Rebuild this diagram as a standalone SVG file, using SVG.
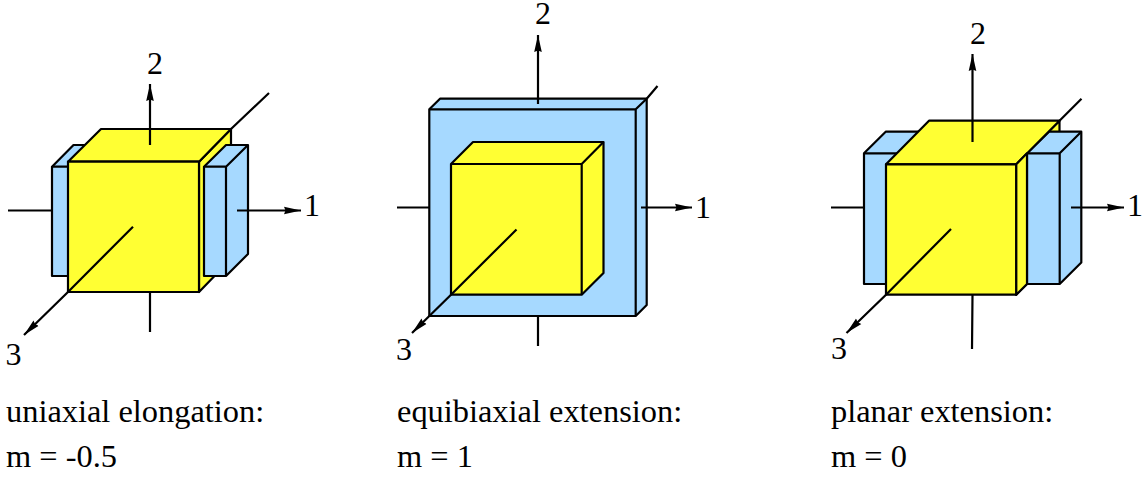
<svg xmlns="http://www.w3.org/2000/svg" width="1146" height="477" viewBox="0 0 1146 477">
<style>
.b{fill:#a6d9ff;stroke:#000;stroke-width:2.200;stroke-linejoin:round}
.y{fill:#ffff33;stroke:#000;stroke-width:2.200;stroke-linejoin:round}
.a{fill:none;stroke:#000;stroke-width:2.200}
text{font-family:"Liberation Serif","Times New Roman",serif;fill:#000}
.n{font-size:32px;text-anchor:middle}
.c{font-size:32.400px}
</style>
<defs>
<marker id="h" markerUnits="userSpaceOnUse" markerWidth="18" markerHeight="10" refX="17" refY="5" orient="auto"><path d="M0 1.200 L17 5 L0 8.800 L1.500 5Z" fill="#000"/></marker>
</defs>
<rect width="1146" height="477" fill="#fff"/>

<g id="connectors-back">
<path class="a" d="M8 210.500H52M231 129L269 93M150 292V332"/>
<path class="a" d="M397 207.500H429M646.700 98.700L657.500 86M538 316V346"/>
<path class="a" d="M831 207.500H864M1059.500 120.700L1081.500 98.700M972.500 295L972 349"/>
</g>

<g id="node-uniaxial">
<path class="b" d="M52 166.700L73.500 145H95V276H52Z"/>
<path class="a" d="M52 166.700H95"/>
<path class="y" d="M199 161.700L231 129V259L199 292Z"/>
<path class="y" d="M68 161.700L101 129H231L199 161.700Z"/>
<rect class="y" x="68" y="161.700" width="131" height="130.300"/>
<path class="b" d="M204 166.700L226 145H248V254L226 276H204Z"/>
<path class="a" d="M226 166.700L248 145M204 166.700H226V276"/>
</g>

<g id="node-equibiaxial">
<path class="b" d="M429.300 109.300L440 98.700H646.700V305L635.700 316H429.300Z"/>
<path class="a" d="M429.300 109.300H635.700V316M635.700 109.300L646.700 98.700"/>
<path class="y" d="M451 164L473 142H603.500V273L581.700 294.700H451Z"/>
<path class="a" d="M451 164H581.700V294.700M581.700 164L603.500 142"/>
</g>

<g id="node-planar">
<path class="b" d="M864 153.300L885.700 131.700H930V284H864Z"/>
<path class="a" d="M864 153.300H930"/>
<path class="y" d="M1016 164L1059.500 120.700V160H1027V284L1016 294.700Z"/>
<path class="b" d="M1027 153.300L1049 131.700H1081.300V262.500L1059.700 284H1027Z"/>
<path class="a" d="M1059.700 153.300L1081.300 131.700M1027 153.300H1059.700V284"/>
<path class="y" d="M886 164.300L929 120.700H1059.500L1016.300 164.300Z"/>
<rect class="y" x="886" y="164.300" width="130.300" height="130.400"/>
<path class="y" d="M1016.300 164.300L1027 153.300V284L1016.300 294.700Z"/>
</g>

<g id="connectors">
<path class="a" d="M133 226.700L68 292L24 335" marker-end="url(#h)"/>
<path class="a" d="M150 145V84" marker-end="url(#h)"/>
<path class="a" d="M237 210.500H301" marker-end="url(#h)"/>
<path class="a" d="M516.500 229.500L451 294.700L412 333" marker-end="url(#h)"/>
<path class="a" d="M538 104V35" marker-end="url(#h)"/>
<path class="a" d="M641 207.500H692" marker-end="url(#h)"/>
<path class="a" d="M951 229L886 294.700L846.500 333" marker-end="url(#h)"/>
<path class="a" d="M972.500 142V54" marker-end="url(#h)"/>
<path class="a" d="M1071 207.500H1124" marker-end="url(#h)"/>
</g>

<g id="labels">
<text class="n" x="155" y="74">2</text>
<text class="n" x="312" y="216">1</text>
<text class="n" x="13.500" y="365">3</text>
<text class="n" x="543" y="23.500">2</text>
<text class="n" x="703" y="218">1</text>
<text class="n" x="404" y="360">3</text>
<text class="n" x="978" y="44">2</text>
<text class="n" x="1135" y="216">1</text>
<text class="n" x="839" y="359">3</text>
<text class="c" x="6" y="422">uniaxial elongation:</text>
<text class="c" x="6" y="467">m = -0.5</text>
<text class="c" x="397" y="422">equibiaxial extension:</text>
<text class="c" x="397" y="467">m = 1</text>
<text class="c" x="831" y="422">planar extension:</text>
<text class="c" x="831" y="467">m = 0</text>
</g>
</svg>
